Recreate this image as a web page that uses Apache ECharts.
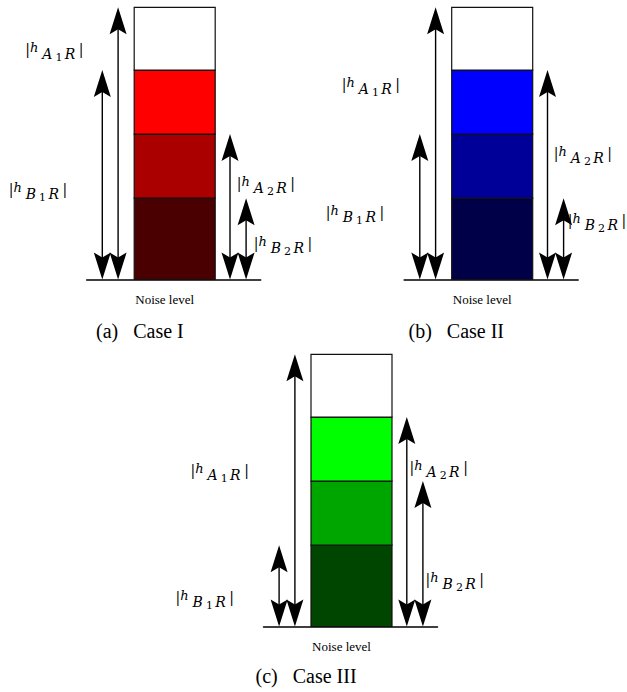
<!DOCTYPE html>
<html>
<head>
<meta charset="utf-8">
<script src="https://cdn.jsdelivr.net/npm/echarts@6/dist/echarts.min.js"></script>
<style>
html,body{margin:0;padding:0;background:#fff;}
#c{width:627px;height:692px;}
</style>
</head>
<body>
<div id="c"></div>
<script>
// ---------- data ----------
const caseNames = ['Case I', 'Case II', 'Case III'];
const captionTags = ['(a)', '(b)', '(c)'];
// edges of the stacked cells above the noise level (same for all cases)
const levelBounds = [0, 1.27, 2.27, 3.27, 4.25];
// channel labels: [node, index] -> |h_{node index R}|
const linkKeys = [['B', '1'], ['A', '1'], ['A', '2'], ['B', '2']];
// channel magnitudes per case (order: Case I, II, III)
const hB1R = [3.27, 2.27, 1.27];
const hA1R = [4.25, 4.25, 4.25];
const hA2R = [2.27, 3.27, 3.27];
const hB2R = [1.27, 1.27, 2.27];
const noiseLabel = 'Noise level';

// ---------- styles / layout ----------
const palettes = [
  ['#4a0000', '#aa0000', '#ff0000', '#ffffff'],
  ['#000048', '#000099', '#0000ff', '#ffffff'],
  ['#004600', '#00a600', '#00ff00', '#ffffff']
];
const layout = {
  centers: [174.7, 492.2, 351.5],
  tops: [7.3, 7.3, 354.3],
  plotH: 272.2,
  xMin: -88, xMax: 86,
  halfBox: 40.5,
  arrowX: [-72.4, -56.6, 55.3, 71.4],          // B1, A1, A2, B2
  labelPos: [
    [[-166, 1.555], [-149.5, 3.733], [62, 1.648], [79, 0.711]],
    [[-166.5, 1.195], [-150.5, 3.2], [61.5, 2.122], [75.5, 1.077]],
    [[-176, 0.602], [-161, 2.577], [58, 2.633], [74, 0.883]]
  ],
  captionLeft: [96, 408.5, 255.5],
  captionTop: [321, 321, 666]
};
const serif = 'DejaVu Serif';
const rich = {
  b: {fontFamily: serif, fontSize: 14, lineHeight: 14, padding: [2, 0, 0, 0], verticalAlign: 'top', fill: '#000'},
  h: {fontFamily: serif, fontStyle: 'italic', fontSize: 13, lineHeight: 13, padding: [1, 4, 0, 0], verticalAlign: 'top', fill: '#000'},
  s: {fontFamily: serif, fontStyle: 'italic', fontSize: 14, lineHeight: 14, padding: [7, 3, 0, 0], verticalAlign: 'top', fill: '#000'},
  n: {fontFamily: serif, fontSize: 11, lineHeight: 11, padding: [12, 2.4, 0, 0], verticalAlign: 'top', fill: '#000'},
  r: {fontFamily: serif, fontStyle: 'italic', fontSize: 14, lineHeight: 14, padding: [7, 3.5, 0, 0], verticalAlign: 'top', fill: '#000'}
};

const chart = echarts.init(document.getElementById('c'), null, {renderer: 'svg'});
const grids = [], xAxes = [], yAxes = [], series = [], titles = [];

caseNames.forEach((name, k) => {
  grids.push({
    left: layout.centers[k] + layout.xMin, top: layout.tops[k],
    width: layout.xMax - layout.xMin, height: layout.plotH,
    outerBoundsMode: 'none', containLabel: false
  });
  xAxes.push({
    type: 'value', gridIndex: k, min: layout.xMin, max: layout.xMax, position: 'bottom',
    axisLine: {show: true, onZero: false, lineStyle: {color: '#000', width: 1.5}},
    axisTick: {show: false}, axisLabel: {show: false}, splitLine: {show: false},
    name: noiseLabel, nameLocation: 'middle', nameGap: 13.5,
    nameTextStyle: {fontFamily: 'Liberation Serif', fontSize: 13, color: '#000', lineHeight: 13, padding: [0, 18, 0, 0]}
  });
  yAxes.push({type: 'value', gridIndex: k, min: 0, max: levelBounds[levelBounds.length - 1], show: false});

  const cells = levelBounds.slice(0, -1).map((lo, i) => [i, lo, levelBounds[i + 1]]);
  series.push({
    type: 'custom', xAxisIndex: k, yAxisIndex: k, data: cells, silent: true, animation: false,
    renderItem: (params, api) => {
      const i = api.value(0), lo = api.value(1), hi = api.value(2);
      const p0 = api.coord([-layout.halfBox, hi]);
      const p1 = api.coord([layout.halfBox, lo]);
      return {
        type: 'rect',
        shape: {x: p0[0], y: p0[1], width: p1[0] - p0[0], height: p1[1] - p0[1]},
        style: {fill: palettes[k][i], stroke: '#111', lineWidth: 1.2}
      };
    }
  });

  const links = [hB1R[k], hA1R[k], hA2R[k], hB2R[k]].map((v, j) => [j, v]);
  series.push({
    type: 'custom', xAxisIndex: k, yAxisIndex: k, data: links, silent: true, animation: false,
    renderItem: (params, api) => {
      const j = api.value(0), v = api.value(1);
      const dx = layout.arrowX[j];
      const top = api.coord([dx, v]), bot = api.coord([dx, 0]);
      const x = top[0], L = 27, W = 8.5, N = 22;
      const head = (ty, dir) => [[x, ty], [x + W, ty + dir * L], [x, ty + dir * N], [x - W, ty + dir * L]];
      const lpt = api.coord(layout.labelPos[k][j]);
      const [node, idx] = linkKeys[j];
      return {
        type: 'group',
        children: [
          {type: 'line', shape: {x1: x, y1: top[1] + 6, x2: x, y2: bot[1] - 6}, style: {stroke: '#000', lineWidth: 1.4}},
          {type: 'polygon', shape: {points: head(top[1], 1)}, style: {fill: '#000'}},
          {type: 'polygon', shape: {points: head(bot[1], -1)}, style: {fill: '#000'}},
          {type: 'text', x: lpt[0], y: lpt[1],
           style: {text: '{b||}{h|h}{s|' + node + '}{n|' + idx + '}{r|R}{b||}', rich: rich,
                   align: 'left', verticalAlign: 'top', fill: '#000'}}
        ]
      };
    }
  });

  titles.push({
    text: captionTags[k] + '\u2002 ' + name,
    left: layout.captionLeft[k], top: layout.captionTop[k], padding: 0,
    textStyle: {fontFamily: 'Liberation Serif', fontSize: 20, fontWeight: 'normal', color: '#000', lineHeight: 20}
  });
});

chart.setOption({
  animation: false,
  backgroundColor: '#fff',
  title: titles,
  grid: grids,
  xAxis: xAxes,
  yAxis: yAxes,
  series: series
});
</script>
</body>
</html>
